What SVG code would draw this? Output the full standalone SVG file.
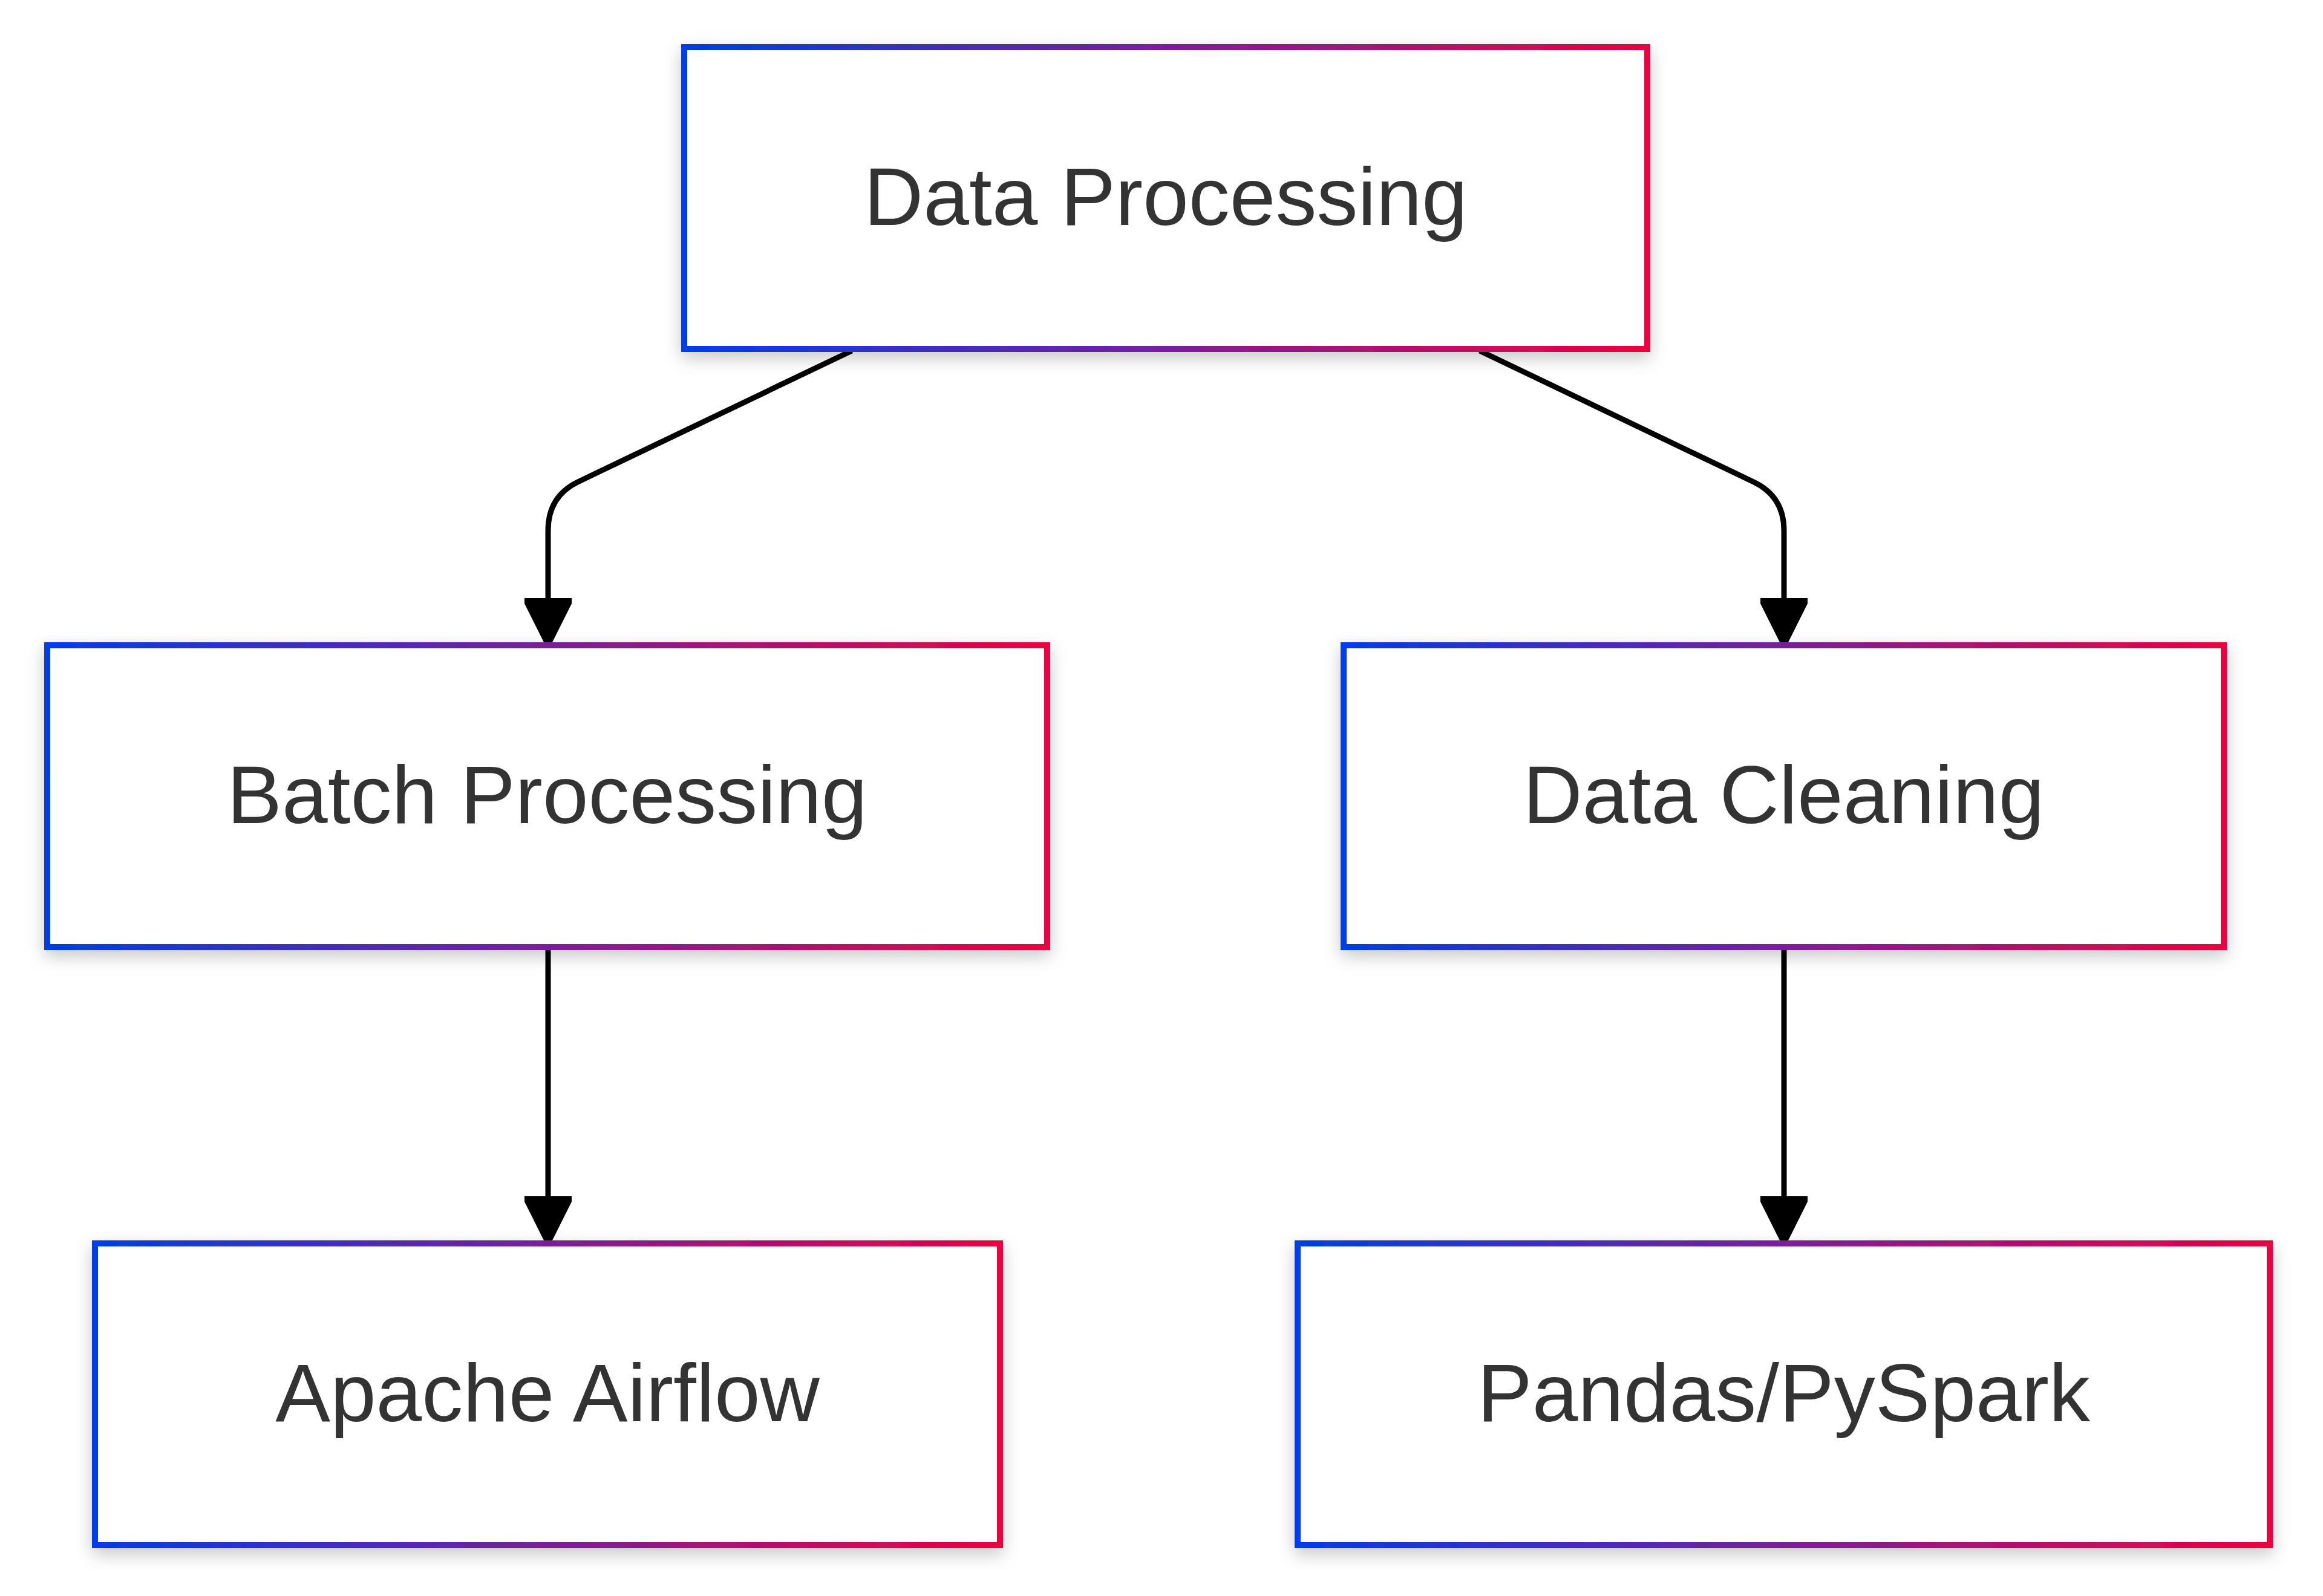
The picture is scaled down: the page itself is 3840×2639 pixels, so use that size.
<svg xmlns="http://www.w3.org/2000/svg" width="3840" height="2639" viewBox="0 0 3840 2639">
<style>
.node rect{fill:#ffffff;stroke:url(#grad);stroke-width:10;filter:url(#shadow)}
.node text{font-family:"Liberation Sans",Arial,sans-serif;font-size:136px;fill:#333333;text-anchor:middle}
.edge{fill:none;stroke:#000000;stroke-width:9}
</style>
<defs>
<linearGradient id="grad" x1="0" y1="0" x2="1" y2="0">
<stop offset="0" stop-color="#003CEB"/>
<stop offset="0.5" stop-color="#7A1F9A"/>
<stop offset="1" stop-color="#EF0040"/>
</linearGradient>
<filter id="shadow" x="-10%" y="-20%" width="120%" height="150%">
<feDropShadow dx="0" dy="10" stdDeviation="14" flood-color="#000000" flood-opacity="0.22"/>
</filter>
<marker id="arrow" markerUnits="userSpaceOnUse" markerWidth="74" markerHeight="80" refX="73" refY="0" orient="auto" viewBox="0 -40 74 80">
<path d="M0,-39 L9,-39 L73,-7 L73,7 L9,39 L0,39 z" fill="#000000"/>
</marker>
</defs>
<rect width="3840" height="2639" fill="#ffffff"/>
<g id="connectors">
<path class="edge" d="M1408,580 L955,797 Q906,821 906,877 L906,1062" marker-end="url(#arrow)"/>
<path class="edge" d="M2446,580 L2899,797 Q2949,821 2949,877 L2949,1062" marker-end="url(#arrow)"/>
<path class="edge" d="M906,1567 L906,2051" marker-end="url(#arrow)"/>
<path class="edge" d="M2949,1567 L2949,2051" marker-end="url(#arrow)"/>
</g>
<g id="node-data-processing" class="node">
<rect x="1131" y="78" width="1592" height="499"/>
<text x="1927" y="372">Data Processing</text>
</g>
<g id="node-batch-processing" class="node">
<rect x="78" y="1067" width="1653" height="499"/>
<text x="904.5" y="1361">Batch Processing</text>
</g>
<g id="node-data-cleaning" class="node">
<rect x="2221" y="1067" width="1455" height="499"/>
<text x="2948.5" y="1361">Data Cleaning</text>
</g>
<g id="node-apache-airflow" class="node">
<rect x="157" y="2056" width="1496" height="499"/>
<text x="905" y="2350">Apache Airflow</text>
</g>
<g id="node-pandas-pyspark" class="node">
<rect x="2145" y="2056" width="1607" height="499"/>
<text x="2948.5" y="2350">Pandas/PySpark</text>
</g>
</svg>
